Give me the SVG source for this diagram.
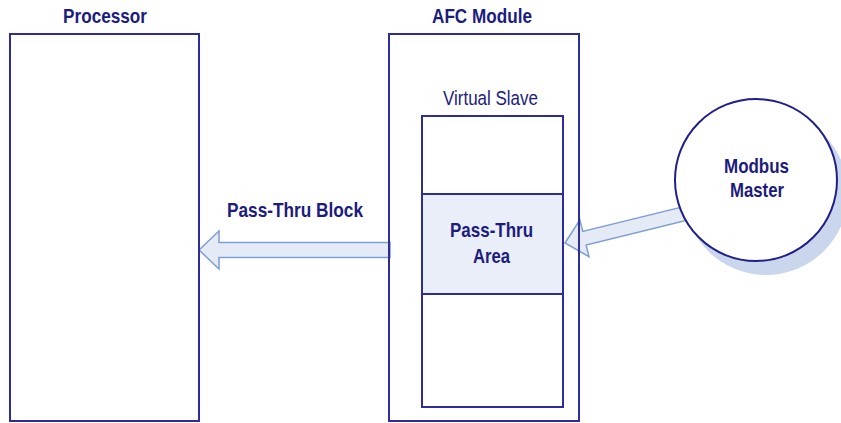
<svg xmlns="http://www.w3.org/2000/svg" width="841" height="423" viewBox="0 0 841 423">
<style>
.box{fill:#fff;stroke:#2c2c9c;stroke-width:2}
.area{fill:#e9eef8;stroke:#2c2c9c;stroke-width:2}
.arrow{fill:#e4ebf7;stroke:#7f9fd2;stroke-width:1.5;stroke-linejoin:miter}
.t{font-family:"Liberation Sans",Arial,sans-serif;font-size:20.5px;fill:#1c1c7e}
.b{font-weight:bold}
</style>
<rect width="841" height="423" fill="#fff"/>
<g id="connectors">
<polygon class="arrow" points="199,250 219,231 219,242.5 390,242.5 390,257.5 219,257.5 219,269"/>
<polygon class="arrow" transform="translate(565,243) rotate(-13.8)" points="0,0 20,-19 20,-7 125,-7 125,7 20,7 20,19"/>
</g>
<g id="processor">
<rect class="box" x="10" y="34" width="189" height="387"/>
<text class="t b" x="63" y="23" textLength="84" lengthAdjust="spacingAndGlyphs">Processor</text>
</g>
<g id="afc-module">
<rect class="box" x="389" y="34" width="190" height="387" style="fill:none"/>
<text class="t b" x="432" y="23" textLength="100" lengthAdjust="spacingAndGlyphs">AFC Module</text>
</g>
<g id="virtual-slave">
<rect class="box" x="422" y="116" width="141" height="291"/>
<text class="t" x="443" y="105" textLength="95" lengthAdjust="spacingAndGlyphs">Virtual Slave</text>
</g>
<g id="pass-thru-area">
<rect class="area" x="422" y="194" width="141" height="100"/>
<text class="t b" x="450" y="237" textLength="83" lengthAdjust="spacingAndGlyphs">Pass-Thru</text>
<text class="t b" x="473" y="263" textLength="37" lengthAdjust="spacingAndGlyphs">Area</text>
</g>
<g id="pass-thru-block-label">
<text class="t b" x="227" y="217" textLength="136" lengthAdjust="spacingAndGlyphs">Pass-Thru Block</text>
</g>
<g id="modbus-master">
<circle cx="766" cy="193" r="82" fill="#c9d6ec"/>
<circle cx="756" cy="180" r="81" fill="#fff" stroke="#1f1f8c" stroke-width="2"/>
<text class="t b" x="724" y="173" textLength="65" lengthAdjust="spacingAndGlyphs">Modbus</text>
<text class="t b" x="730" y="197" textLength="54" lengthAdjust="spacingAndGlyphs">Master</text>
</g>
</svg>
